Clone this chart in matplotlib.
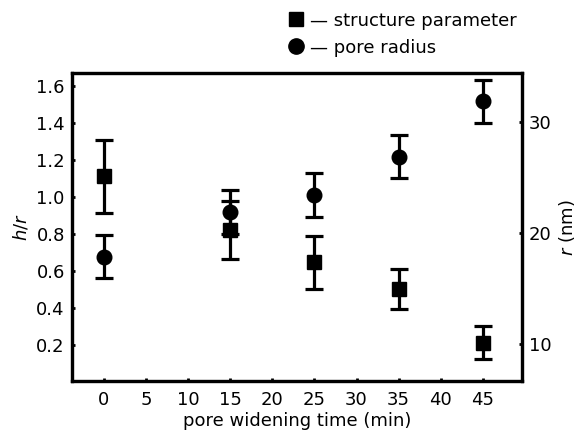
import matplotlib.pyplot as plt
from matplotlib.lines import Line2D

plt.rcParams['font.family'] = ['DejaVu Sans']
plt.rcParams['mathtext.fontset'] = 'dejavusans'

# pore widening time (min)
times = [0, 15, 25, 35, 45]
# structure parameter h/r (left axis)
hr = [1.11, 0.82, 0.645, 0.50, 0.21]
hr_err = [0.20, 0.155, 0.145, 0.11, 0.09]
# pore radius r in nm (right axis)
radius = [17.9, 21.9, 23.45, 26.9, 31.9]
radius_err = [1.97, 2.0, 2.0, 1.95, 1.95]

xticks = [0, 5, 10, 15, 20, 25, 30, 35, 40, 45]
left_ticks = [0.2, 0.4, 0.6, 0.8, 1.0, 1.2, 1.4, 1.6]
right_ticks = [10, 20, 30]

fig = plt.figure(figsize=(5.84, 4.38), dpi=100)
ax = fig.add_axes([0.1228, 0.129, 0.7705, 0.7043])
ax2 = ax.twinx()

ax.errorbar(times, hr, yerr=hr_err, fmt='s', color='black', ms=9.5,
            elinewidth=2.3, capsize=6.5, capthick=2.3, clip_on=False)
ax2.errorbar(times, radius, yerr=radius_err, fmt='o', color='black', ms=10.5,
             elinewidth=2.3, capsize=6.5, capthick=2.3, clip_on=False)

ax.set_xlim(-3.8, 49.6)
ax.set_ylim(0.0, 1.67)
ax2.set_ylim(6.65, 34.44)
ax.set_xticks(xticks)
ax.set_yticks(left_ticks)
ax.set_yticklabels(['%.1f' % v for v in left_ticks])
ax2.set_yticks(right_ticks)

for a in (ax, ax2):
    for s in a.spines.values():
        s.set_linewidth(2.3)
    a.tick_params(direction='in', length=2, width=2, labelsize=13, pad=5)
ax.tick_params(axis='x', pad=7)

ax.set_xlabel('pore widening time (min)', fontsize=13, labelpad=2)
ax.set_ylabel('$h/r$', fontsize=13, labelpad=4)
ax2.set_ylabel('$r$ (nm)', fontsize=13, labelpad=4)

handles = [Line2D([], [], marker='s', color='black', ls='none', ms=10),
           Line2D([], [], marker='o', color='black', ls='none', ms=11)]
fig.legend(handles, ['\u2014 structure parameter', '\u2014 pore radius'],
           loc='upper left', bbox_to_anchor=(0.482, 0.99), frameon=False,
           fontsize=13, handlelength=0.8, handletextpad=0.4,
           labelspacing=0.5, borderaxespad=0)

fig.savefig('out.png', dpi=100)
